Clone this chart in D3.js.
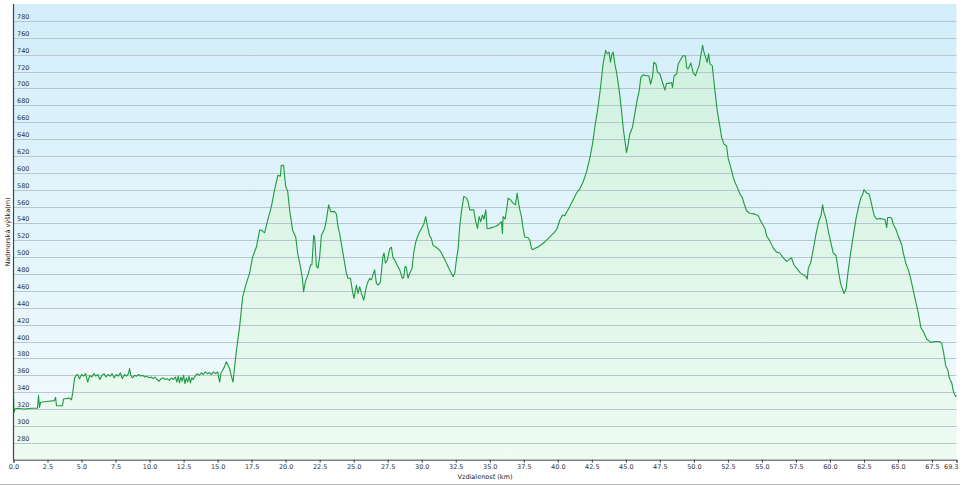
<!DOCTYPE html>
<html><head><meta charset="utf-8">
<script src="https://cdn.jsdelivr.net/npm/d3@7"></script>
<style>body{margin:0;background:#fff}svg{display:block}</style>
</head><body>
<script>
const distanceKm = [0.00,0.04,0.11,0.29,0.81,1.32,1.76,1.84,1.91,1.99,2.43,3.01,3.09,3.16,3.60,3.68,4.12,4.26,4.36,4.49,4.61,
4.70,4.85,5.00,5.15,5.30,5.45,5.60,5.75,5.90,6.05,6.20,6.35,6.50,6.65,6.80,6.95,7.10,7.25,7.40,7.55,7.70,7.85,8.00,8.15,8.30,8.45,8.53,8.62,8.75,8.90,9.05,9.20,9.35,9.50,9.65,9.80,9.95,10.10,10.25,10.40,10.55,10.70,10.85,11.00,11.15,11.30,11.45,11.60,11.75,11.90,12.00,12.10,12.20,12.30,12.40,12.50,12.60,12.70,12.80,12.90,13.00,13.10,13.20,13.35,13.50,13.65,13.80,13.95,14.10,14.25,14.40,14.55,14.70,14.85,15.00,15.15,15.25,15.37,15.50,15.64,15.76,15.88,16.00,16.13,16.25,16.38,
16.62,16.84,17.11,17.35,17.57,17.85,18.09,18.21,18.46,18.68,18.95,19.19,19.43,19.61,19.68,19.85,19.93,20.00,20.15,20.29,20.51,20.74,20.88,21.08,21.23,21.32,21.45,21.64,21.84,21.93,22.06,22.13,22.26,22.38,22.50,22.63,22.87,22.99,23.16,23.31,23.60,23.73,23.85,23.97,24.21,24.46,24.58,24.76,24.90,25.02,25.20,25.32,25.44,25.57,25.74,25.93,26.05,26.18,26.30,26.42,26.54,26.67,26.79,26.96,27.15,27.23,27.33,27.48,27.65,27.77,27.89,28.01,28.18,28.38,28.58,28.68,28.77,28.87,28.99,29.12,29.29,29.41,29.56,29.73,29.85,29.98,30.15,30.29,30.39,30.59,30.71,30.83,31.03,31.20,31.38,31.57,31.76,31.93,32.11,32.30,32.43,32.55,32.67,32.79,32.92,33.09,33.29,33.40,33.53,33.66,33.82,33.97,34.10,34.22,34.34,34.46,34.58,34.71,34.80,34.95,35.13,35.37,35.61,35.86,35.93,35.98,36.13,36.27,36.35,36.52,36.71,36.89,37.01,37.11,37.21,37.33,37.45,37.57,37.82,37.94,38.07,38.18,38.38,38.55,38.80,39.04,39.29,39.54,39.78,39.95,40.15,40.35,40.51,40.68,40.88,41.13,41.38,41.62,41.86,42.11,42.35,42.55,42.72,42.96,43.14,43.33,43.51,43.63,43.77,43.87,43.97,44.07,44.19,44.32,44.51,44.68,44.80,44.93,45.05,45.17,45.29,45.49,45.66,45.83,45.99,46.10,46.27,46.52,46.69,46.82,46.96,47.06,47.21,47.33,47.50,47.70,47.87,47.99,48.18,48.36,48.43,48.55,48.73,48.85,49.02,49.21,49.39,49.46,49.58,49.78,49.95,50.12,50.24,50.39,50.57,50.64,50.74,50.86,50.98,51.08,51.18,51.35,51.47,51.60,51.71,51.86,52.04,52.21,52.40,52.52,52.70,52.89,53.01,53.18,53.38,53.55,53.70,53.87,54.12,54.49,54.73,54.90,55.05,55.22,55.35,55.59,55.83,56.08,56.32,56.49,56.64,56.82,57.06,57.18,57.35,57.55,57.79,58.04,58.24,58.33,58.41,58.58,58.77,58.97,59.19,59.34,59.46,59.56,59.71,59.88,60.07,60.24,60.44,60.61,60.79,60.93,61.03,61.18,61.35,61.52,61.71,61.91,62.08,62.26,62.40,62.50,62.70,62.87,62.99,63.14,63.26,63.43,63.68,63.92,64.04,64.17,64.24,64.41,64.54,64.65,64.85,65.02,65.27,65.39,65.57,65.76,65.93,66.13,66.32,66.49,66.69,66.86,67.11,67.41,67.72,68.04,68.21,68.33,68.51,68.65,68.77,68.95,69.07,69.22,69.30];
const elevationM = [337,316,320,321,320,321,321,336,322,328,329,330,334,324,324,332,333,331,340,357,360,
361,356,361,359,362,352,360,358,362,359,361,355,360,362,358,361,359,362,357,361,359,363,356,361,359,362,368,360,357,360,359,361,359,360,358,359,357,358,356,358,355,353,356,357,355,356,354,357,355,358,352,359,351,358,353,360,350,357,352,359,351,357,355,359,362,360,363,361,364,362,363,361,364,362,364,352,363,366,370,376,372,368,360,352,370,389,
418,453,469,481,500,512,532,532,529,544,560,580,597,596,609,609,595,584,578,556,532,524,505,489,475,459,471,479,491,491,526,524,489,487,501,526,534,544,562,554,554,551,536,528,505,481,475,475,461,451,467,457,465,457,449,465,471,475,473,479,485,469,467,470,501,505,493,497,510,512,499,497,491,485,475,476,489,488,475,481,487,505,518,526,530,534,539,548,539,525,522,514,512,510,507,501,495,489,483,477,481,497,509,536,554,572,570,566,556,556,556,542,534,548,542,550,545,556,534,534,535,536,538,542,528,548,545,560,570,568,564,562,576,565,556,548,534,524,523,520,510,509,511,512,515,518,522,526,530,534,544,550,549,554,560,568,576,581,589,601,617,634,654,678,701,729,745,741,743,731,740,743,729,719,698,674,654,638,624,634,646,654,670,686,698,713,716,715,715,705,714,731,729,719,717,707,698,706,706,707,701,715,717,729,734,739,738,725,723,730,718,715,721,727,745,751,743,737,731,741,729,727,709,690,674,660,642,634,632,617,607,595,589,583,575,571,563,555,552,551,549,543,539,534,525,519,511,506,505,501,498,495,498,499,491,487,482,479,477,474,487,493,509,527,543,549,562,553,545,531,517,505,502,485,468,462,457,462,485,505,525,545,558,570,574,580,576,575,568,557,549,545,546,545,545,535,547,547,546,539,533,525,515,505,493,485,475,460,446,434,416,412,403,399,400,400,398,389,371,367,357,351,341,335,336];
const yTicks = [280,300,320,340,360,380,400,420,440,460,480,500,520,540,560,580,600,620,640,660,680,700,720,740,760,780];
const xTicks = [0,2.5,5,7.5,10,12.5,15,17.5,20,22.5,25,27.5,30,32.5,35,37.5,40,42.5,45,47.5,50,52.5,55,57.5,60,62.5,65,67.5,69.3];
const xTitle = "Vzdialenosť (km)";
const yTitle = "Nadmorská výška(m)";

const W = 960, H = 485;
const L = 13.5, R = 956.5, T = 4, B = 459.7;
const svg = d3.select("body").append("svg").attr("width", W).attr("height", H);
const defs = svg.append("defs");
const bg = defs.append("linearGradient").attr("id","bg").attr("x1",0).attr("y1",0).attr("x2",0).attr("y2",1);
bg.append("stop").attr("offset","0%").attr("stop-color","#d2eefa");
bg.append("stop").attr("offset","100%").attr("stop-color","#f3fbfd");
const ag = defs.append("linearGradient").attr("id","ag").attr("gradientUnits","userSpaceOnUse").attr("x1",0).attr("y1",T).attr("x2",0).attr("y2",B);
ag.append("stop").attr("offset","0%").attr("stop-color","#cdf0dd");
ag.append("stop").attr("offset","100%").attr("stop-color","#eefbf2");

const x = d3.scaleLinear().domain([0, 69.3]).range([L, R]);
const y = d3.scaleLinear().domain([260, 800]).range([B, T]);

svg.append("rect").attr("x", L).attr("y", T).attr("width", R - L).attr("height", B - T).attr("fill", "url(#bg)");

const data = distanceKm.map((d, i) => ({km: d, e: elevationM[i]}));
svg.append("path").datum(data)
  .attr("d", d3.area().x(d => x(d.km)).y0(B).y1(d => y(d.e)))
  .attr("fill", "url(#ag)");

// gridlines
svg.append("g").selectAll("line").data(yTicks).join("line")
  .attr("x1", L).attr("x2", R)
  .attr("y1", d => Math.round(y(d)) + 0.5).attr("y2", d => Math.round(y(d)) + 0.5)
  .attr("stroke", "#b8c7cd").attr("stroke-width", 1);

svg.append("path").datum(data)
  .attr("d", d3.line().x(d => x(d.km)).y(d => y(d.e)))
  .attr("fill", "none").attr("stroke", "#1f9a3e").attr("stroke-width", 1.1).attr("stroke-linejoin","round");

// y labels inside plot
svg.append("g").selectAll("text").data(yTicks).join("text")
  .attr("x", 17).attr("y", d => Math.round(y(d)) - 2.5)
  .attr("font-family", "DejaVu Sans").attr("font-size", 6.5).attr("fill", "#333")
  .text(d => d);

// axes
const xAxis = d3.axisBottom(x).tickValues(xTicks).tickSize(3).tickPadding(2)
  .tickFormat(d => d.toFixed(1));
const gx = svg.append("g").attr("transform", `translate(0,${B})`).call(xAxis);
gx.select(".domain").attr("stroke", "#444");
gx.selectAll(".tick line").attr("stroke", "#444");
gx.selectAll("text").attr("font-family", "DejaVu Sans").attr("font-size", 6.5).attr("fill", "#333");
gx.selectAll(".tick").filter(d => d === 69.3).select("text").attr("text-anchor", "end").attr("dx", 1.5);

svg.append("line").attr("x1", L).attr("x2", L).attr("y1", T).attr("y2", B + 0.5).attr("stroke", "#444").attr("stroke-width", 1.2);

svg.append("text").attr("x", (L + R) / 2).attr("y", 479).attr("text-anchor", "middle")
  .attr("font-family", "DejaVu Sans").attr("font-size", 6.5).attr("fill", "#222").text(xTitle);
svg.append("text").attr("transform", "translate(9.5,232) rotate(-90)").attr("text-anchor", "middle")
  .attr("font-family", "DejaVu Sans").attr("font-size", 6.5).attr("fill", "#222").text(yTitle);

svg.append("line").attr("x1", 0).attr("x2", W).attr("y1", 484.5).attr("y2", 484.5).attr("stroke", "#bbb");
</script>
</body></html>
